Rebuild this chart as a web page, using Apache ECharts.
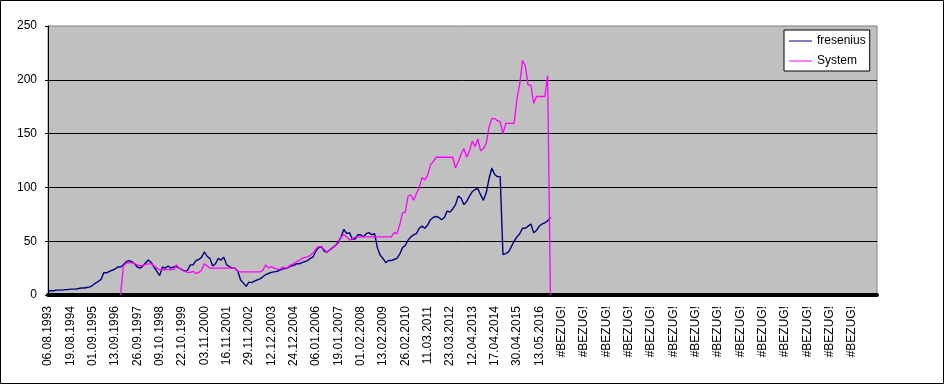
<!DOCTYPE html>
<html>
<head>
<meta charset="utf-8">
<script src="https://cdn.jsdelivr.net/npm/echarts@6/dist/echarts.min.js"></script>
<style>
html,body{margin:0;padding:0;background:#fff;}
#chart{width:945px;height:384px;}
</style>
</head>
<body>
<div id="chart"></div>
<script>
// Tick labels of the category axis (one every 8 samples)
const tickLabels = ['06.08.1993','19.08.1994','01.09.1995','13.09.1996','26.09.1997','09.10.1998',
  '22.10.1999','03.11.2000','16.11.2001','29.11.2002','12.12.2003','24.12.2004','06.01.2006',
  '19.01.2007','01.02.2008','13.02.2009','26.02.2010','11.03.2011','23.03.2012','12.04.2013',
  '17.04.2014','30.04.2015','13.05.2016',
  '#BEZUG!','#BEZUG!','#BEZUG!','#BEZUG!','#BEZUG!','#BEZUG!','#BEZUG!',
  '#BEZUG!','#BEZUG!','#BEZUG!','#BEZUG!','#BEZUG!','#BEZUG!','#BEZUG!'];
const samplesPerTick = 8;
const categoryCount = 298;

// fresenius, sampled
const fresenius = [
  3.5,4,4,4.5,4.5,4.5,5,5,5.5,5.5,
  5.5,6,6.5,6.5,7,7.5,9,11,12.5,14.5,
  21,20.5,22,23,24,26,26,28,31,32,
  31,29,26,25,27,30,32.5,30,26,22,
  18,26,25,27,25,26,26.5,25,23.5,22,
  23,28,28,32,33,35,40,36,34,27,
  29,34,32.5,35,28,26.5,25,25,22,14,
  11,8,12,11.5,13,14,15,17,19,20,
  21,21.5,22,23,24,24.5,25.5,27,27.5,29,
  29,30,31,32,34,35.5,41,44,45,40.5,
  40,42,44,46,49,54,61,57,58,52,
  52,56,56,54,57,58,56,57,44,37,
  34,30,32,32,33,34,38,44,46,51,
  54,56,57,62,64,62,65,70,72,73,
  72,70,72,78,77,80,84,92,90,84,
  87,92,96,98,99,93,88,95,108,118,
  112,110,110,37.5,38.5,40,45,50,54,57,
  62,62,64,66,58,60,64,66,67,69,
  72
];

// System, sampled (starts at sample 26)
const system = [
  null,null,null,null,null,null,null,null,null,null,
  null,null,null,null,null,null,null,null,null,null,
  null,null,null,null,null,null,0,27,29.5,30,
  30,29,28,27,27.5,28.5,29,29,27,25,
  23.5,23.5,23.5,23.5,23.5,23.5,28,25,23.5,22,
  21,21,22,20,21,23,29,27,25,25,
  25,25,25,25,25,25,25,25,22,21.4,
  21.4,21.4,21.4,21.4,21.4,21.4,21.4,23,28,25,
  26.5,25,24,23.5,26,25,26,28,29,31,
  32,34,35,35.5,37,39,43,45,45,42,
  40,42,44,46,48,54,56,54,51,52,
  54,54,54,54,54,54,54,54,54,54,
  54,54,54,54,58,57,65,76,77,92,
  93,88,94,100,109,107,111,121,124,128,
  128,128,128,128,128,128,118,124,131,136,
  128,134,143,138,145,134,136,141,156,164,
  164,162,161,150,159.5,159.5,159.5,159.5,182,196,
  218,213,195,195,178,184.5,184.5,184.5,184.5,204,
  0
];

const categories = [];
for (let i = 0; i < categoryCount; i++) {
  const k = i / samplesPerTick;
  categories.push(i % samplesPerTick === 0 && k < tickLabels.length ? tickLabels[k] : '');
}

const FONT = 'Liberation Sans, Arial, sans-serif';
const chart = echarts.init(document.getElementById('chart'), null, {renderer: 'canvas'});
chart.setOption({
  animation: false,
  backgroundColor: '#fff',
  textStyle: {fontFamily: FONT},
  graphic: [{
    type: 'rect', silent: true, z: 100,
    shape: {x: 0.5, y: 0.5, width: 943, height: 383},
    style: {fill: 'none', stroke: '#000', lineWidth: 1}
  }],
  grid: {
    left: 48, right: 68, top: 26, bottom: 89,
    show: true, backgroundColor: '#C0C0C0', borderColor: '#808080', borderWidth: 1
  },
  legend: {
    data: ['fresenius', 'System'],
    orient: 'vertical',
    left: 784, top: 30,
    icon: 'rect',
    backgroundColor: '#fff', borderColor: '#000', borderWidth: 1,
    padding: [4, 4, 3, 5],
    itemWidth: 23, itemHeight: 1, itemGap: 6,
    textStyle: {fontSize: 12, lineHeight: 14, color: '#000', fontFamily: FONT}
  },
  xAxis: {
    type: 'category',
    data: categories,
    boundaryGap: false,
    offset: 2,
    axisLine: {lineStyle: {color: '#000', width: 4}},
    axisTick: {show: false},
    splitLine: {show: false},
    axisLabel: {
      interval: samplesPerTick - 1, rotate: 90, margin: 9,
      fontSize: 12, color: '#000', fontFamily: FONT
    }
  },
  yAxis: {
    type: 'value', min: 0, max: 250, interval: 50,
    axisLine: {show: true, lineStyle: {color: '#000', width: 1}},
    axisTick: {show: true, length: 3, lineStyle: {color: '#000'}},
    axisLabel: {margin: 11, fontSize: 12, color: '#000', fontFamily: FONT},
    splitLine: {show: true, showMaxLine: false, showMinLine: false, lineStyle: {color: '#000', width: 1}}
  },
  series: [
    {name: 'fresenius', type: 'line', data: fresenius, symbol: 'none', showSymbol: false,
      color: '#000080', lineStyle: {color: '#000080', width: 1.4}},
    {name: 'System', type: 'line', data: system, symbol: 'none', showSymbol: false,
      color: '#FF00FF', lineStyle: {color: '#FF00FF', width: 1.3}}
  ]
});
</script>
</body>
</html>
